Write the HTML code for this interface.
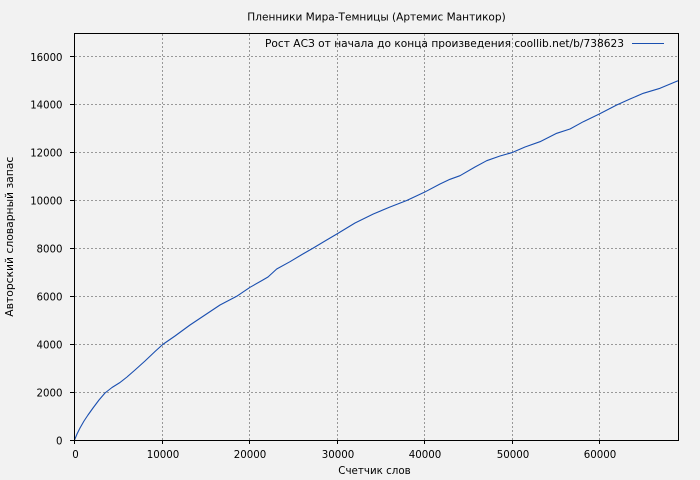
<!DOCTYPE html>
<html>
<head>
<meta charset="utf-8">
<style>
  html, body { margin:0; padding:0; background:#f2f2f2; }
  svg { display:block; }
  text { font-family: "DejaVu Sans", "Liberation Sans", sans-serif; fill:#000; }
</style>
</head>
<body>
<svg width="700" height="480" viewBox="0 0 700 480" xmlns="http://www.w3.org/2000/svg">
  <rect x="0" y="0" width="700" height="480" fill="#f2f2f2"/>

  <!-- grid -->
  <g stroke="#999999" stroke-width="1" stroke-dasharray="2,2" fill="none">
    <line x1="162.5" y1="34" x2="162.5" y2="440"/>
    <line x1="249.5" y1="34" x2="249.5" y2="440"/>
    <line x1="337.5" y1="34" x2="337.5" y2="440"/>
    <line x1="424.5" y1="34" x2="424.5" y2="440"/>
    <line x1="512.5" y1="34" x2="512.5" y2="440"/>
    <line x1="599.5" y1="34" x2="599.5" y2="440"/>
    <line x1="75" y1="392.5" x2="678" y2="392.5"/>
    <line x1="75" y1="344.5" x2="678" y2="344.5"/>
    <line x1="75" y1="296.5" x2="678" y2="296.5"/>
    <line x1="75" y1="248.5" x2="678" y2="248.5"/>
    <line x1="75" y1="200.5" x2="678" y2="200.5"/>
    <line x1="75" y1="152.5" x2="678" y2="152.5"/>
    <line x1="75" y1="104.5" x2="678" y2="104.5"/>
    <line x1="75" y1="56.5" x2="678" y2="56.5"/>
  </g>

  <!-- ticks -->
  <g stroke="#000" stroke-width="1">
    <line x1="70" y1="440.5" x2="74.5" y2="440.5"/>
    <line x1="70" y1="392.5" x2="74.5" y2="392.5"/>
    <line x1="70" y1="344.5" x2="74.5" y2="344.5"/>
    <line x1="70" y1="296.5" x2="74.5" y2="296.5"/>
    <line x1="70" y1="248.5" x2="74.5" y2="248.5"/>
    <line x1="70" y1="200.5" x2="74.5" y2="200.5"/>
    <line x1="70" y1="152.5" x2="74.5" y2="152.5"/>
    <line x1="70" y1="104.5" x2="74.5" y2="104.5"/>
    <line x1="70" y1="56.5" x2="74.5" y2="56.5"/>
    <line x1="74.5" y1="440.5" x2="74.5" y2="444"/>
    <line x1="162.5" y1="440.5" x2="162.5" y2="444"/>
    <line x1="249.5" y1="440.5" x2="249.5" y2="444"/>
    <line x1="337.5" y1="440.5" x2="337.5" y2="444"/>
    <line x1="424.5" y1="440.5" x2="424.5" y2="444"/>
    <line x1="512.5" y1="440.5" x2="512.5" y2="444"/>
    <line x1="599.5" y1="440.5" x2="599.5" y2="444"/>
  </g>

  <!-- data line -->
  <polyline fill="none" stroke="#1a4fb0" stroke-width="1.1" stroke-linejoin="round"
    points="74.5,440 77,434 80,428 84,421 88,415 93,408 99,400 105,393 112,387.5 120,382.5 127,377 135,370 145,361 155,351.5 162.7,344.5 175,336 190,325 205,315 220,305 236.7,296.3 250,287.3 262,280.5 268,277 276.7,269 290,261.7 302,254.5 313.3,248 325,241 337.7,233.5 355,223 373.3,214 390,207 406.7,200.5 424.3,192.3 440,184 450,179.3 460,175.7 475,167 486.7,160.7 500,156 511.7,152.7 525,147 540,141.7 556.7,133.3 570,129 583.3,121.7 599.3,114 616.7,105 630,99 643.3,93.3 660,88.3 678,80.7"/>

  <!-- plot border -->
  <rect x="74.5" y="33.5" width="604" height="407" fill="none" stroke="#000" stroke-width="1"/>

  <!-- y tick labels -->
  <g font-size="11" text-anchor="end">
    <text x="62.5" y="444.5" textLength="6.5" lengthAdjust="spacingAndGlyphs">0</text>
    <text x="62.5" y="396.5" textLength="26" lengthAdjust="spacingAndGlyphs">2000</text>
    <text x="62.5" y="348.5" textLength="26" lengthAdjust="spacingAndGlyphs">4000</text>
    <text x="62.5" y="300.5" textLength="26" lengthAdjust="spacingAndGlyphs">6000</text>
    <text x="62.5" y="252.5" textLength="26" lengthAdjust="spacingAndGlyphs">8000</text>
    <text x="62.5" y="204.5" textLength="32.3" lengthAdjust="spacingAndGlyphs">10000</text>
    <text x="62.5" y="156.5" textLength="32.3" lengthAdjust="spacingAndGlyphs">12000</text>
    <text x="62.5" y="108.5" textLength="32.3" lengthAdjust="spacingAndGlyphs">14000</text>
    <text x="62.5" y="60.8" textLength="32.3" lengthAdjust="spacingAndGlyphs">16000</text>
  </g>

  <!-- x tick labels -->
  <g font-size="11" text-anchor="middle">
    <text x="75.5" y="457.8" textLength="6.5" lengthAdjust="spacingAndGlyphs">0</text>
    <text x="163" y="457.8" textLength="32.6" lengthAdjust="spacingAndGlyphs">10000</text>
    <text x="250" y="457.8" textLength="32.6" lengthAdjust="spacingAndGlyphs">20000</text>
    <text x="338" y="457.8" textLength="32.6" lengthAdjust="spacingAndGlyphs">30000</text>
    <text x="425" y="457.8" textLength="32.6" lengthAdjust="spacingAndGlyphs">40000</text>
    <text x="513" y="457.8" textLength="32.6" lengthAdjust="spacingAndGlyphs">50000</text>
    <text x="600" y="457.8" textLength="32.6" lengthAdjust="spacingAndGlyphs">60000</text>
  </g>

  <!-- title -->
  <text x="247.3" y="20.5" font-size="11" textLength="258.4" lengthAdjust="spacingAndGlyphs">Пленники Мира-Темницы (Артемис Мантикор)</text>

  <!-- legend -->
  <text x="265" y="47" font-size="11" textLength="359" lengthAdjust="spacingAndGlyphs">Рост АСЗ от начала до конца произведения coollib.net/b/738623</text>
  <line x1="632" y1="43.5" x2="664" y2="43.5" stroke="#1a4fb0" stroke-width="1.1"/>

  <!-- axis labels -->
  <text x="338.3" y="474" font-size="11" textLength="72.4" lengthAdjust="spacingAndGlyphs">Счетчик слов</text>
  <text transform="translate(13,316.7) rotate(-90)" x="0" y="0" font-size="11" textLength="160" lengthAdjust="spacingAndGlyphs">Авторский словарный запас</text>
</svg>
</body>
</html>
